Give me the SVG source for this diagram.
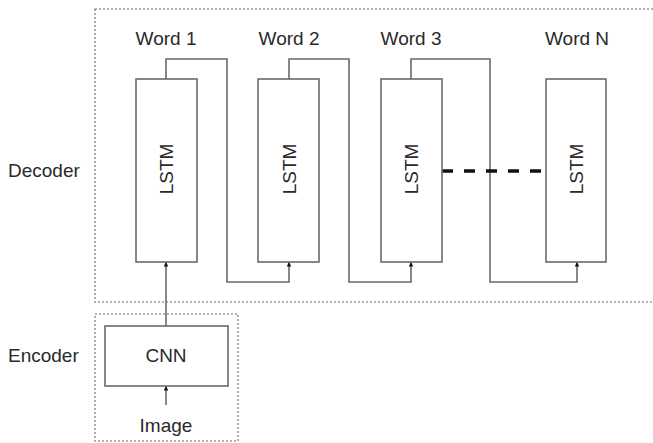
<svg xmlns="http://www.w3.org/2000/svg" width="653" height="443" viewBox="0 0 653 443">
<style>
.t{font-family:"Liberation Sans",Arial,sans-serif;font-size:19px;fill:#2a2a2a}
.box{fill:#fff;stroke:#6a6a6a;stroke-width:1.6}
.grp{fill:none;stroke:#9a9a9a;stroke-width:1.6;stroke-dasharray:2 2}
.c{fill:none;stroke:#6a6a6a;stroke-width:1.6}
</style>
<defs>
<marker id="ah" viewBox="0 0 10 10" refX="10" refY="5" markerWidth="4.5" markerHeight="4.5" orient="auto" markerUnits="userSpaceOnUse">
<path d="M0,0 L10,5 L0,10 z" fill="#111"/>
</marker>
</defs>
<rect width="653" height="443" fill="#fff"/>
<g id="decoder">
<rect class="grp" x="95" y="9" width="570" height="293"/>
<text class="t" x="8" y="177">Decoder</text>
</g>
<g id="encoder">
<rect class="grp" x="95" y="314" width="143" height="127"/>
<text class="t" x="8" y="362">Encoder</text>
</g>
<g id="word1"><text class="t" x="166" y="45" text-anchor="middle">Word 1</text></g>
<g id="word2"><text class="t" x="289" y="45" text-anchor="middle">Word 2</text></g>
<g id="word3"><text class="t" x="411" y="45" text-anchor="middle">Word 3</text></g>
<g id="wordN"><text class="t" x="577" y="45" text-anchor="middle">Word N</text></g>
<g id="connectors">
<path class="c" d="M166,79 V59 H227 V282 H289 V262" marker-end="url(#ah)"/>
<path class="c" d="M289,79 V59 H349 V282 H411 V262" marker-end="url(#ah)"/>
<path class="c" d="M411,79 V59 H490 V282 H577 V262" marker-end="url(#ah)"/>
<path class="c" d="M166,326 V262" marker-end="url(#ah)"/>
<path class="c" d="M166,405 V386" marker-end="url(#ah)"/>
<path d="M442,171 H546" fill="none" stroke="#111" stroke-width="3.5" stroke-dasharray="11 11"/>
</g>
<g id="lstm1">
<rect class="box" x="136" y="79" width="61" height="183"/>
<text class="t" transform="translate(173,169) rotate(-90)" text-anchor="middle">LSTM</text>
</g>
<g id="lstm2">
<rect class="box" x="258" y="79" width="61" height="183"/>
<text class="t" transform="translate(296,169) rotate(-90)" text-anchor="middle">LSTM</text>
</g>
<g id="lstm3">
<rect class="box" x="381" y="79" width="61" height="183"/>
<text class="t" transform="translate(418,169) rotate(-90)" text-anchor="middle">LSTM</text>
</g>
<g id="lstmN">
<rect class="box" x="546" y="79" width="60" height="183"/>
<text class="t" transform="translate(583,169) rotate(-90)" text-anchor="middle">LSTM</text>
</g>
<g id="cnn">
<rect class="box" x="105" y="326" width="123" height="60"/>
<text class="t" x="166" y="362" text-anchor="middle">CNN</text>
</g>
<g id="image"><text class="t" x="166" y="432" text-anchor="middle">Image</text></g>
</svg>
